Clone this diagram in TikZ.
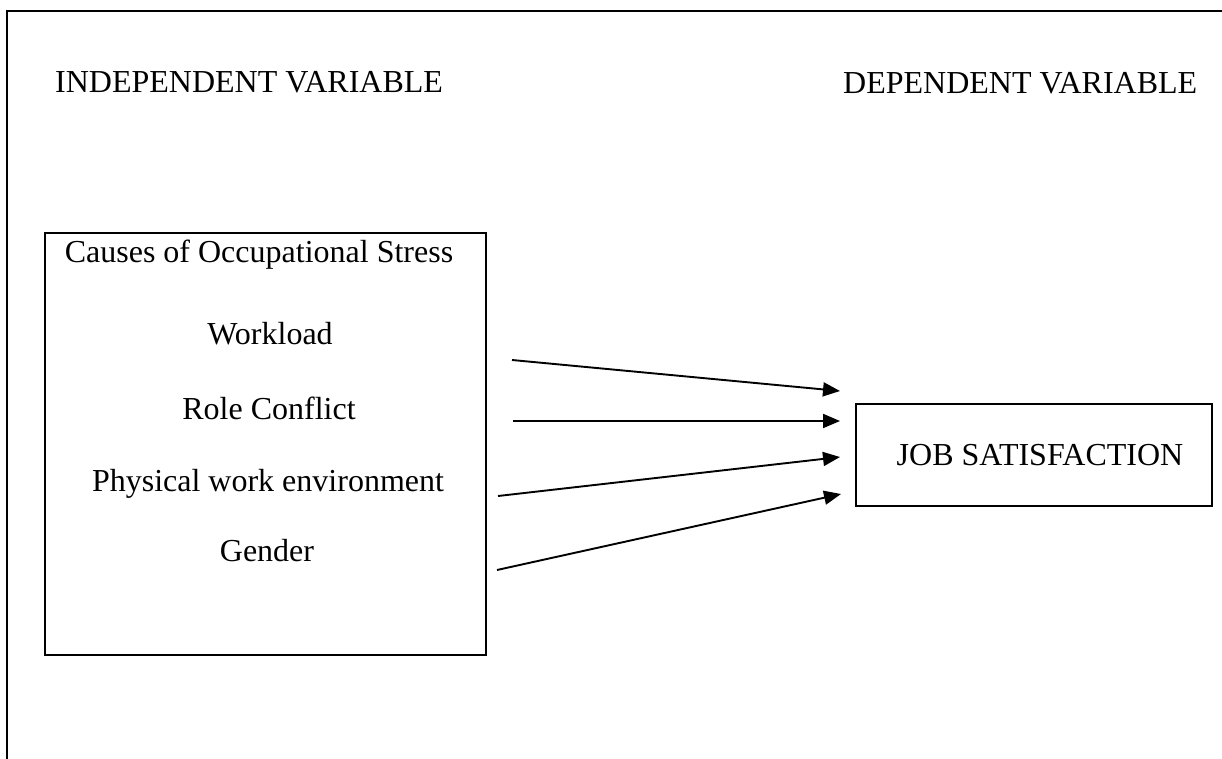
\documentclass[tikz,border=0pt]{standalone}
\usepackage{fontspec}
\setmainfont{Liberation Serif}
\usetikzlibrary{arrows.meta}
\begin{document}
\begin{tikzpicture}[x=1pt,y=-1pt,
  lbl/.style={anchor=base,inner sep=0pt,font=\fontsize{32}{38}\selectfont},
  frameline/.style={line width=1.9pt},
  boxstyle/.style={draw,line width=1.9pt,inner sep=0pt},
  effect/.style={line width=1.9pt,-{Triangle[length=17pt,width=14pt]}}]
  \useasboundingbox (0,0) rectangle (1222,759);
  % open frame: top and left edges
  \draw[frameline] (7,759) -- (7,11) -- (1222,11);
  % column headings
  \node[lbl,anchor=base west] (indep) at (55,93) {INDEPENDENT VARIABLE};
  \node[lbl,anchor=base west] (dep) at (843,94) {DEPENDENT VARIABLE};
  % independent variable box
  \node[boxstyle,minimum width=441pt,minimum height=422pt] (causes) at (265.5,444) {};
  \node[lbl] (title) at (259,262) {Causes of Occupational Stress};
  \node[lbl] (workload) at (270,344) {Workload};
  \node[lbl] (role) at (269,419) {Role Conflict};
  \node[lbl] (phys) at (268,491) {Physical work environment};
  \node[lbl] (gender) at (267,561) {Gender};
  % dependent variable box
  \node[boxstyle,minimum width=356pt,minimum height=102pt] (job) at (1034,455) {};
  \node[lbl] (jobtext) at (1040,465) {JOB SATISFACTION};
  % arrow ends
  \coordinate (s1) at (512,360); \coordinate (e1) at (840,391);
  \coordinate (s2) at (513,421); \coordinate (e2) at (840,421);
  \coordinate (s3) at (498,496); \coordinate (e3) at (840,457);
  \coordinate (s4) at (497,570); \coordinate (e4) at (841,494);
  \draw[effect] (s1) -- (e1);
  \draw[effect] (s2) -- (e2);
  \draw[effect] (s3) -- (e3);
  \draw[effect] (s4) -- (e4);
\end{tikzpicture}
\end{document}
